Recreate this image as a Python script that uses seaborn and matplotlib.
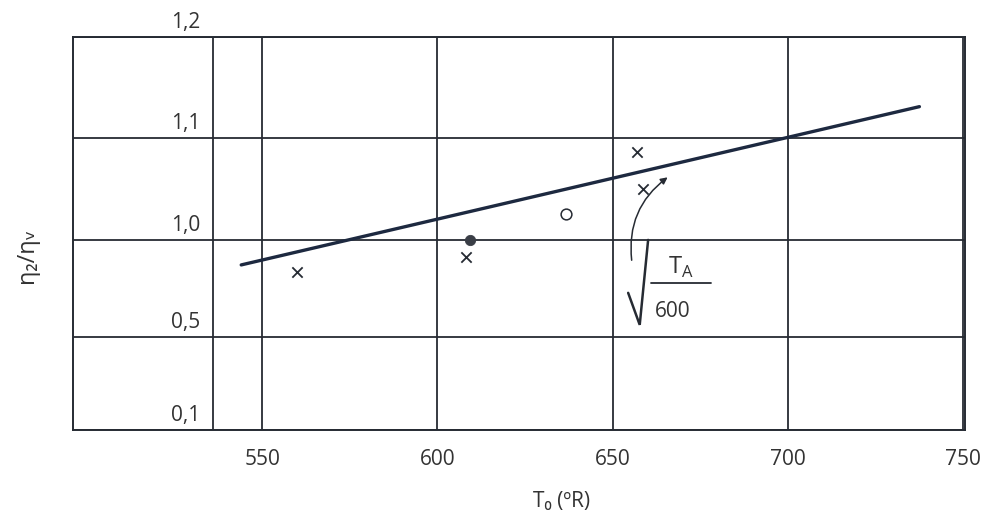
#!/usr/bin/env python3

import numpy as np
import pandas as pd
import seaborn as sns
import matplotlib as mpl
import matplotlib.pyplot as plt
from matplotlib.lines import Line2D

sns.set_theme(style="white")
mpl.rcParams["font.family"] = ["Open Sans", "DejaVu Sans"]
mpl.rcParams["figure.figsize"] = (9.89, 5.21)
mpl.rcParams["figure.dpi"] = 100

# values
line_T = [544, 737.5]
line_eta = [0.871, 1.131]

pts_T = [560, 608.2, 609.4, 636.7, 657, 658.7]
pts_eta = [0.835, 0.914, 1.0, 1.025, 1.086, 1.05]
pts_kind = ["x", "x", "dot", "ring", "x", "x"]

x_extra = [536]
x_ticks = [550, 600, 650, 700, 750]
x_labels = ["550", "600", "650", "700", "750"]
y_ticks = [0.1, 0.5, 1.0, 1.1, 1.2]
y_labels = ["0,1", "0,5", "1,0", "1,1", "1,2"]
# the y axis of the original is not linear: spacing of the printed grid
y_pos = [0, 93, 190, 292, 393]

ink = "#262b33"

yv = np.array([-10.0] + y_ticks + [10.0])
yp = np.array([-9000.0] + y_pos + [9000.0])


def fwd(v):
    return np.interp(v, yv, yp)


def inv(p):
    return np.interp(p, yp, yv)


fig = plt.figure()
ax = fig.add_axes([0.0738, 0.175, 0.9019, 0.754])
ax.set_yscale("function", functions=(fwd, inv))

df_line = pd.DataFrame({"T": line_T, "eta": line_eta})
sns.lineplot(data=df_line, x="T", y="eta", color="#1d2940", lw=2.4, ax=ax, zorder=4)

df_pts = pd.DataFrame({"T": pts_T, "eta": pts_eta, "kind": pts_kind})
sns.scatterplot(
    data=df_pts[df_pts.kind == "x"], x="T", y="eta", marker="x", s=55,
    color=ink, linewidth=1.3, ax=ax, zorder=5,
)
sns.scatterplot(
    data=df_pts[df_pts.kind == "dot"], x="T", y="eta", marker="o", s=55,
    color="#3a3e46", edgecolor="#3a3e46", ax=ax, zorder=5,
)
sns.scatterplot(
    data=df_pts[df_pts.kind == "ring"], x="T", y="eta", marker="o", s=60,
    facecolor="white", edgecolor=ink, linewidth=1.1, ax=ax, zorder=5,
)

ax.set_xlim(496, 750.5)
ax.set_ylim(0.1, 1.2)
ax.set_xticks(x_ticks, labels=x_labels)
ax.set_xticks(x_extra, minor=True)
ax.set_yticks(y_ticks, labels=[""] * len(y_ticks))
ax.grid(False)
ax.grid(True, which="both", axis="x", color=ink, lw=1.3)
ax.grid(True, which="major", axis="y", color=ink, lw=1.3)
ax.tick_params(axis="x", which="both", length=0, pad=14, labelsize=15,
               labelcolor="#333333")
ax.tick_params(axis="y", length=0)
for s in ax.spines.values():
    s.set_color(ink)
    s.set_linewidth(1.4)

# y labels sit inside the frame, just above each grid line
for v, lab in zip(y_ticks, y_labels):
    ax.annotate(lab, xy=(0.143, v), xycoords=("axes fraction", "data"),
                xytext=(0, 3), textcoords="offset points",
                ha="right", va="bottom", fontsize=15, color="#333333",
                annotation_clip=False)

ax.set_xlabel("T₀ (ºR)", fontsize=15, color="#333333")
ax.xaxis.set_label_coords(0.548, -0.155)
ax.set_ylabel("η₂/ηᵥ", fontsize=17, color="#333333")
ax.yaxis.set_label_coords(-0.038, 0.445)

# sqrt(T_A/600) note with arrow
ax.annotate("", xy=(666.3, 1.063), xytext=(655.5, 0.881),
            arrowprops=dict(arrowstyle="-|>", color=ink, lw=1.1,
                            connectionstyle="arc3,rad=-0.3", mutation_scale=10))
ax.add_line(Line2D([654.4, 657.7, 660.1], [0.727, 0.562, 1.0],
                   color=ink, lw=1.8, solid_joinstyle="miter"))
ax.add_line(Line2D([661, 678], [0.78, 0.78], color=ink, lw=1.3))
ax.text(669.5, 0.856, r"T$_{\mathregular{A}}$", fontsize=17, color="#333333",
        ha="center", va="center")
ax.text(667.2, 0.63, "600", fontsize=15, color="#333333", ha="center", va="center")

plt.savefig("out.png", dpi=100)
